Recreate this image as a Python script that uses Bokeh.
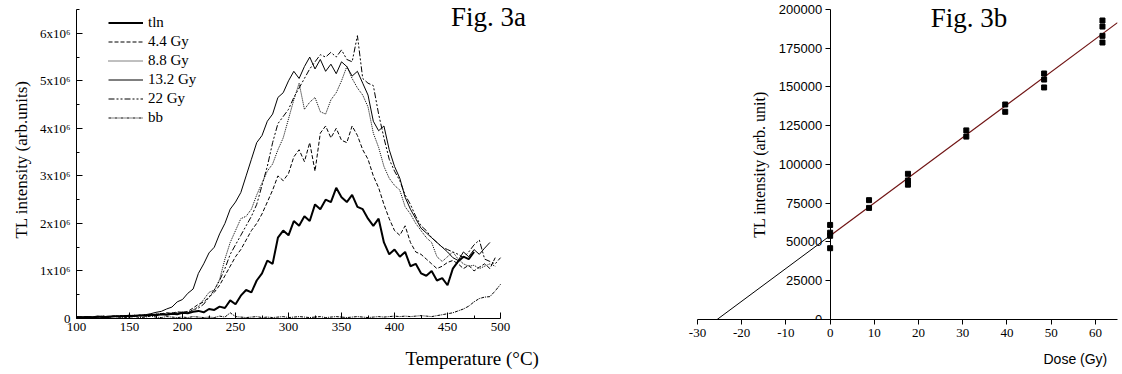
import numpy as np
from bokeh.plotting import figure
from bokeh.models import FixedTicker, Label, Legend, LegendItem, BasicTickFormatter, Title
from bokeh.layouts import row
from bokeh.embed import file_html
from bokeh.resources import INLINE

# ---------------- Fig. 3a data (TL intensity in units of 1e6) ----------------
temperature = list(range(100, 505, 5))

tln = [
    0.03, 0.02, 0.03, 0.02, 0.04, 0.03, 0.03, 0.05, 0.04, 0.05,   # 100-145
    0.06, 0.05, 0.07, 0.06, 0.08, 0.07, 0.09, 0.08, 0.10, 0.09,   # 150-195
    0.12, 0.11, 0.14, 0.16, 0.13, 0.20, 0.18, 0.25, 0.22, 0.38,   # 200-245
    0.30, 0.48, 0.60, 0.55, 0.80, 0.95, 1.22, 1.15, 1.70, 1.85,   # 250-295
    1.75, 2.05, 1.95, 2.15, 2.05, 2.40, 2.30, 2.50, 2.45, 2.75,   # 300-345
    2.55, 2.45, 2.60, 2.35, 2.30, 2.10, 1.95, 2.10, 1.60, 1.35,   # 350-395
    1.45, 1.30, 1.40, 1.10, 1.15, 0.95, 0.90, 1.00, 0.80, 0.85,   # 400-445
    0.70, 1.05, 1.20, 1.30, 1.25, 1.40,                           # 450-475
]
gy_4_4 = [
    0.03, 0.02, 0.04, 0.03, 0.03, 0.04, 0.05, 0.04, 0.05, 0.06,
    0.05, 0.06, 0.07, 0.06, 0.08, 0.09, 0.10, 0.12, 0.11, 0.14,
    0.13, 0.15, 0.22, 0.30, 0.35, 0.45, 0.55, 0.70, 0.90, 1.10,
    1.30, 1.45, 1.65, 1.85, 2.00, 2.20, 2.45, 2.70, 3.00, 2.90,
    3.05, 3.40, 3.55, 3.30, 3.70, 3.10, 3.90, 4.05, 3.80, 4.00,
    3.75, 3.70, 4.05, 3.85, 3.55, 3.35, 3.00, 2.75, 2.40, 2.10,
    1.85, 1.75, 1.95, 1.60, 1.40, 1.35, 1.25, 1.15, 1.05, 1.10,
    1.18, 1.22, 1.15, 1.05, 1.12, 1.00, 1.08, 1.15, 1.05, 1.28,   # 450-495
]
gy_8_8 = [
    0.02, 0.03, 0.03, 0.04, 0.03, 0.05, 0.04, 0.05, 0.06, 0.05,
    0.06, 0.07, 0.06, 0.08, 0.07, 0.09, 0.10, 0.09, 0.12, 0.11,
    0.14, 0.12, 0.18, 0.25, 0.40, 0.55, 0.60, 0.82, 1.25, 1.60,
    1.85, 2.10, 2.15, 2.30, 2.60, 2.85, 3.10, 3.25, 3.55, 3.80,
    4.20, 4.60, 4.95, 4.40, 4.55, 4.65, 4.35, 4.30, 4.60, 4.75,
    5.00, 5.30, 5.05, 4.85, 4.70, 4.45, 3.90, 3.60, 3.20, 2.95,
    2.80, 2.70, 2.35, 2.20, 2.00, 1.85, 1.70, 1.60, 1.30, 1.20,
    1.30, 1.40, 1.25, 1.15, 1.10, 1.12, 1.05, 1.10, 1.15, 1.10,   # 450-495
]
gy_13_2 = [
    0.02, 0.03, 0.02, 0.03, 0.04, 0.03, 0.04, 0.05, 0.04, 0.06,
    0.05, 0.07, 0.06, 0.08, 0.10, 0.13, 0.15, 0.20, 0.24, 0.35,
    0.40, 0.53, 0.62, 0.95, 1.15, 1.38, 1.50, 1.78, 2.00, 2.30,
    2.45, 2.65, 3.00, 3.35, 3.70, 3.85, 4.15, 4.30, 4.65, 4.75,
    5.00, 5.20, 5.05, 5.30, 5.50, 5.25, 5.45, 5.20, 5.35, 5.15,
    5.40, 5.30, 5.10, 5.20, 4.95, 4.70, 4.15, 3.95, 4.05, 3.55,
    3.20, 2.95, 2.55, 2.30, 2.10, 1.90, 1.80, 1.70, 1.60, 1.50,
    1.40, 1.28, 1.22, 1.40, 1.30, 1.45, 1.35, 1.48, 1.60,         # 450-490
]
gy_22 = [
    0.03, 0.04, 0.03, 0.02, 0.04, 0.05, 0.03, 0.04, 0.06, 0.05,
    0.07, 0.06, 0.05, 0.08, 0.07, 0.09, 0.08, 0.11, 0.10, 0.12,
    0.11, 0.12, 0.18, 0.22, 0.30, 0.45, 0.60, 0.80, 1.05, 1.35,
    1.55, 1.75, 1.95, 2.15, 2.40, 2.80, 3.20, 3.70, 4.10, 4.25,
    4.40, 4.65, 4.85, 5.05, 5.25, 5.40, 5.55, 5.50, 5.60, 5.50,
    5.65, 5.45, 5.40, 5.95, 5.05, 4.95, 4.90, 4.30, 3.80, 3.35,
    3.10, 2.90, 2.60, 2.40, 2.15, 1.95, 1.85, 1.70, 1.60, 1.50,
    1.45, 1.40, 1.35, 1.28, 1.40, 1.55, 1.65, 1.25, 1.20, 1.15,
    1.28,                                                         # 500
]
bb = [
    0.03, 0.02, 0.04, 0.02, 0.03, 0.03, 0.02, 0.04, 0.03, 0.02,
    0.03, 0.04, 0.02, 0.03, 0.05, 0.03, 0.02, 0.04, 0.03, 0.02,
    0.03, 0.02, 0.04, 0.03, 0.02, 0.03, 0.02, 0.05, 0.03, 0.12,
    0.04, 0.03, 0.02, 0.03, 0.04, 0.02, 0.03, 0.02, 0.03, 0.04,
    0.02, 0.03, 0.04, 0.03, 0.02, 0.03, 0.04, 0.02, 0.03, 0.04,
    0.03, 0.02, 0.03, 0.04, 0.03, 0.02, 0.03, 0.04, 0.03, 0.04,
    0.05, 0.04, 0.05, 0.04, 0.05, 0.06, 0.05, 0.04, 0.06, 0.08,
    0.10, 0.12, 0.16, 0.20, 0.26, 0.35, 0.42, 0.45, 0.46, 0.58,
    0.72,
]
series_names = ["tln", "4.4 Gy", "8.8 Gy", "13.2 Gy", "22 Gy", "bb"]
series_values = [tln, gy_4_4, gy_8_8, gy_13_2, gy_22, bb]

y_ticks_3a = [0, 1, 2, 3, 4, 5, 6]
y_tick_labels_3a = ["0", "1x10⁶", "2x10⁶", "3x10⁶", "4x10⁶", "5x10⁶", "6x10⁶"]
x_ticks_3a = [100, 150, 200, 250, 300, 350, 400, 450, 500]

# ---------------- Fig. 3b data ----------------
dose = [0, 0, 0, 0, 8.8, 8.8, 17.6, 17.6, 17.6, 30.8, 30.8, 39.6, 39.6,
        48.4, 48.4, 48.4, 61.6, 61.6, 61.6, 61.6]
tl_intensity = [61000, 56000, 54000, 46000, 77000, 72000, 94000, 89700, 87000,
                122000, 118000, 138700, 134000, 158700, 154800, 149700,
                192900, 189000, 183000, 178700]
x_ticks_3b = [-30, -20, -10, 0, 10, 20, 30, 40, 50, 60]
y_ticks_3b = [0, 25000, 50000, 75000, 100000, 125000, 150000, 175000, 200000]

SERIF = "Liberation Serif"
SANS = "Liberation Sans"

# ---------------- Fig. 3a ----------------
p1 = figure(frame_width=464, frame_height=318, x_range=(100, 537.7), y_range=(0, 6.69e6),
            output_backend="svg", toolbar_location=None,
            min_border_left=76, min_border_right=0, min_border_top=0, min_border_bottom=0)
p1.grid.visible = False
p1.outline_line_color = None

styles = {
    "tln": dict(line_width=2.0, line_dash="solid", line_color="black"),
    "4.4 Gy": dict(line_width=1.0, line_dash="4 2", line_color="black"),
    "8.8 Gy": dict(line_width=1.0, line_dash="1 1", line_color="black"),
    "13.2 Gy": dict(line_width=1.0, line_dash="solid", line_color="black"),
    "22 Gy": dict(line_width=1.0, line_dash="6 2 2 2 2 2", line_color="black"),
    "bb": dict(line_width=1.0, line_dash="3 1 1 1", line_color="black"),
}
items = []
for name, vals in zip(series_names, series_values):
    xs = temperature[:len(vals)]
    ys = [v * 1e6 for v in vals]
    r = p1.line(xs, ys, **styles[name])
    items.append(LegendItem(label=name, renderers=[r]))

legend = Legend(items=items, location=(32, 192))
legend.border_line_color = None
legend.background_fill_alpha = 0
legend.label_text_font = SERIF
legend.label_text_font_size = "15px"
legend.label_text_color = "black"
legend.glyph_width = 35
legend.glyph_height = 17
legend.label_height = 17
legend.spacing = 2
legend.padding = 0
legend.margin = 0
legend.label_standoff = 5
p1.add_layout(legend)

for ax in (p1.xaxis[0], p1.yaxis[0]):
    ax.major_tick_in = 6
    ax.major_tick_out = 0
    ax.minor_tick_in = 3
    ax.minor_tick_out = 0
    ax.axis_line_color = "black"
    ax.major_tick_line_color = "black"
    ax.minor_tick_line_color = "black"
    ax.major_label_text_font = SERIF
    ax.major_label_text_font_size = "13px"
    ax.major_label_text_color = "black"
    ax.axis_label_text_color = "black"

p1.xaxis.bounds = (100, 500)
p1.yaxis.bounds = (0, 6.5e6)
p1.xaxis.ticker = FixedTicker(ticks=x_ticks_3a,
                              minor_ticks=[t + 25 for t in x_ticks_3a[:-1]])
p1.xaxis.major_label_standoff = 4
p1.yaxis.ticker = FixedTicker(ticks=[t * 1e6 for t in y_ticks_3a],
                              minor_ticks=[(t + 0.5) * 1e6 for t in y_ticks_3a])
p1.yaxis.major_label_overrides = {t * 1e6: lab for t, lab in zip(y_ticks_3a, y_tick_labels_3a)}
p1.yaxis.major_label_standoff = 6
p1.yaxis.axis_label = "TL intensity (arb.units)"
p1.yaxis.axis_label_text_font = SERIF
p1.yaxis.axis_label_text_font_size = "17px"
p1.yaxis.axis_label_text_font_style = "normal"
p1.yaxis.axis_label_standoff = 6

p1.add_layout(Title(text="Temperature (°C)", align="left", offset=329, text_font=SERIF,
                    text_font_size="19px", text_font_style="normal", text_color="black",
                    standoff=24), "below")
p1.add_layout(Label(x=488.7, y=6.34e6, text="Fig. 3a", text_font=SERIF, text_color="black",
                    text_font_size="27px", text_align="center", text_baseline="middle"))

# ---------------- Fig. 3b ----------------
p2 = figure(frame_width=420, frame_height=319, x_range=(-30, 65), y_range=(0, 205806),
            output_backend="svg", toolbar_location=None,
            min_border_left=157, min_border_right=3, min_border_top=0, min_border_bottom=0)
p2.grid.visible = False
p2.outline_line_color = None

slope, intercept = np.polyfit(dose, tl_intensity, 1)
x_zero = -intercept / slope
x_end = p2.x_range.end
p2.line([x_zero, 0], [0, intercept], line_color="black", line_width=1)
p2.line([0, x_end], [intercept, intercept + slope * x_end], line_color="#701414", line_width=1.2)
p2.scatter(dose, tl_intensity, marker="square", size=5, color="black")

p2.yaxis.fixed_location = 0
p2.yaxis.bounds = (0, 200000)
for ax in (p2.xaxis[0], p2.yaxis[0]):
    ax.major_tick_in = 0
    ax.major_tick_out = 5
    ax.minor_tick_line_color = None
    ax.axis_line_color = "black"
    ax.major_tick_line_color = "black"
    ax.major_label_text_color = "black"
    ax.axis_label_text_color = "black"

p2.xaxis.ticker = FixedTicker(ticks=x_ticks_3b)
p2.xaxis.major_label_overrides = {t: str(t) for t in x_ticks_3b}
p2.xaxis.major_label_text_font = SERIF
p2.xaxis.major_label_text_font_size = "13px"
p2.xaxis.major_label_standoff = 4
p2.yaxis.ticker = FixedTicker(ticks=y_ticks_3b)
p2.yaxis.formatter = BasicTickFormatter(use_scientific=False)
p2.yaxis.major_label_text_font = SANS
p2.yaxis.major_label_text_font_size = "13px"
p2.yaxis.major_label_standoff = 3
p2.yaxis.axis_label = "TL intensity (arb. unit)"
p2.yaxis.axis_label_text_font = SERIF
p2.yaxis.axis_label_text_font_size = "16px"
p2.yaxis.axis_label_text_font_style = "normal"
p2.yaxis.axis_label_standoff = 8

p2.add_layout(Title(text="Dose (Gy)", align="left", offset=346, text_font=SANS,
                    text_font_size="14px", text_font_style="normal", text_color="black",
                    standoff=18), "below")
p2.add_layout(Label(x=31.4, y=194800, text="Fig. 3b", text_font=SERIF, text_color="black",
                    text_font_size="27px", text_align="center", text_baseline="middle"))

layout = row(p1, p2)
open("out.html", "w").write(file_html(layout, INLINE))
